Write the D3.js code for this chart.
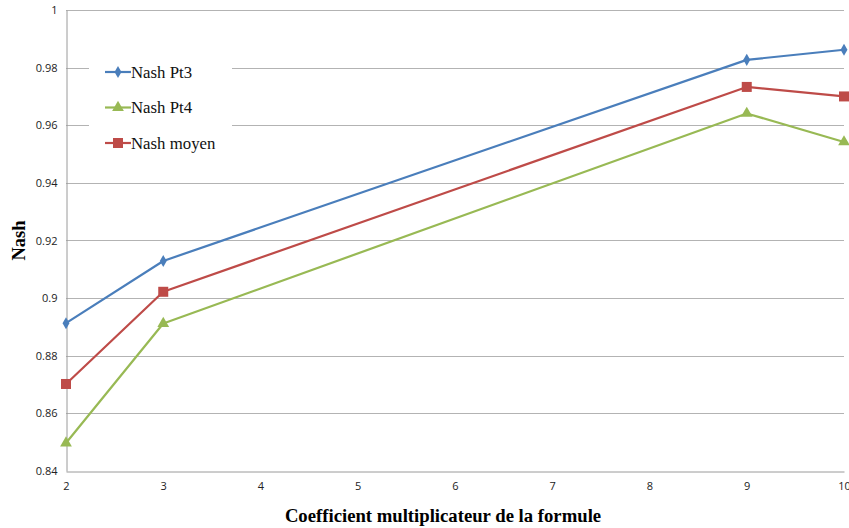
<!DOCTYPE html>
<html>
<head>
<meta charset="utf-8">
<script src="https://cdn.jsdelivr.net/npm/d3@7"></script>
<style>
  html, body { margin: 0; padding: 0; background: #fff; }
  svg { display: block; }
</style>
</head>
<body>
<svg id="chart" width="849" height="528"></svg>
<script>
// Coefficient values on the x axis
const coefficients = [2, 3, 9, 10];
// Nash efficiency for each series
const nashPt3 = [0.8913, 0.9129, 0.9827, 0.9862];
const nashPt4 = [0.8497, 0.8912, 0.9641, 0.9542];
const nashMoyen = [0.8702, 0.9022, 0.9733, 0.9700];

const xTicks = [2, 3, 4, 5, 6, 7, 8, 9, 10];
const yTicks = [0.84, 0.86, 0.88, 0.9, 0.92, 0.94, 0.96, 0.98, 1];

const seriesNames = ["Nash Pt3", "Nash Pt4", "Nash moyen"];
const seriesValues = [nashPt3, nashPt4, nashMoyen];
const seriesColors = ["#4a7ebb", "#98b954", "#be4b48"];
const seriesMarkers = ["diamond", "triangle", "square"];

const margin = { left: 66, right: 5, top: 10, bottom: 57 };
const W = 849, H = 528;

const svg = d3.select("#chart");
const x = d3.scaleLinear().domain([2, 10]).range([margin.left, W - margin.right]);
const y = d3.scaleLinear().domain([0.84, 1]).range([H - margin.bottom, margin.top]);

const tickFont = "'Open Sans', 'Liberation Sans', sans-serif";
const serif = "'Liberation Serif', 'Times New Roman', serif";

// horizontal gridlines
const grid = svg.append("g");
grid.selectAll("line").data(yTicks.filter(d => d > 0.84)).enter().append("line")
  .attr("x1", x(2)).attr("x2", x(10))
  .attr("y1", d => Math.round(y(d)) + 0.5).attr("y2", d => Math.round(y(d)) + 0.5)
  .attr("stroke", "#b3b3b3").attr("stroke-width", 1);

// y axis
const yAxis = svg.append("g")
  .attr("transform", `translate(${Math.round(x(2)) + 0.5},0)`)
  .call(d3.axisLeft(y).tickValues(yTicks).tickSize(0).tickPadding(9)
    .tickFormat(d => d3.format("")(+d.toFixed(2))));
yAxis.select(".domain").attr("stroke", "#9a9a9a");
yAxis.selectAll("text").attr("font-family", tickFont).attr("font-size", 11).attr("fill", "#222");

// x axis
const xAxis = svg.append("g")
  .attr("transform", `translate(0,${Math.round(y(0.84)) + 0.5})`)
  .call(d3.axisBottom(x).tickValues(xTicks).tickSize(0).tickPadding(11).tickFormat(d3.format("d")));
xAxis.select(".domain").attr("stroke", "#9a9a9a");
xAxis.selectAll("text").attr("font-family", tickFont).attr("font-size", 11).attr("fill", "#222");

// axis titles
svg.append("text")
  .attr("x", 443).attr("y", 522)
  .attr("text-anchor", "middle")
  .attr("font-family", serif).attr("font-weight", "bold").attr("font-size", 18.7)
  .text("Coefficient multiplicateur de la formule");
svg.append("text")
  .attr("transform", `translate(25,${(y(0.84) + y(1)) / 2}) rotate(-90)`)
  .attr("text-anchor", "middle")
  .attr("font-family", serif).attr("font-weight", "bold").attr("font-size", 18.5)
  .text("Nash");

function marker(g, type, color) {
  if (type === "diamond") {
    g.append("path").attr("d", d3.symbol(d3.symbolDiamond, 42)()).attr("fill", color);
  } else if (type === "triangle") {
    g.append("path").attr("d", d3.symbol(d3.symbolTriangle, 60)()).attr("fill", color);
  } else {
    g.append("rect").attr("x", -5).attr("y", -5).attr("width", 10).attr("height", 10).attr("fill", color);
  }
}

const line = d3.line().x(d => x(d[0])).y(d => y(d[1]));

seriesValues.forEach((vals, i) => {
  const pts = coefficients.map((c, j) => [c, vals[j]]);
  const g = svg.append("g");
  g.append("path").datum(pts).attr("d", line)
    .attr("fill", "none").attr("stroke", seriesColors[i]).attr("stroke-width", 2.2)
    .attr("stroke-linejoin", "round");
  pts.forEach(p => {
    const m = g.append("g").attr("transform", `translate(${x(p[0])},${y(p[1])})`);
    marker(m, seriesMarkers[i], seriesColors[i]);
  });
});

// legend
const legend = svg.append("g");
legend.append("rect").attr("x", 89).attr("y", 50).attr("width", 143).attr("height", 112).attr("fill", "#fff");
seriesNames.forEach((name, i) => {
  const ly = 72 + i * 35.5;
  const lg = legend.append("g").attr("transform", `translate(0,${ly})`);
  lg.append("line").attr("x1", 105).attr("x2", 131).attr("y1", 0).attr("y2", 0)
    .attr("stroke", seriesColors[i]).attr("stroke-width", 2.2);
  const m = lg.append("g").attr("transform", "translate(118,0)");
  marker(m, seriesMarkers[i], seriesColors[i]);
  lg.append("text").attr("x", 131).attr("y", 5.5)
    .attr("font-family", serif).attr("font-size", 16.8).attr("fill", "#111")
    .text(name);
});
</script>
</body>
</html>
